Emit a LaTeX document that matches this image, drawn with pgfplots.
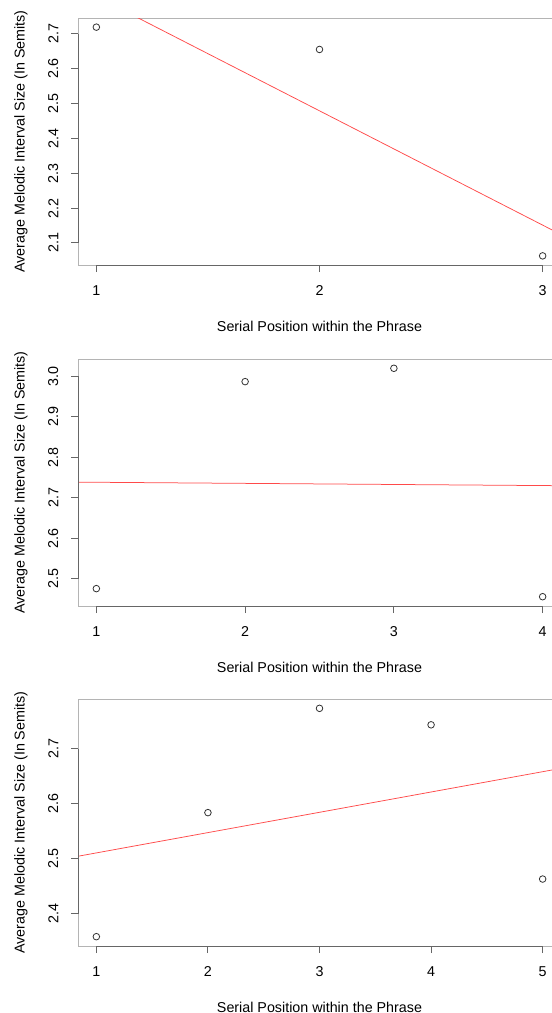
\documentclass[border=0pt]{standalone}
\usepackage{fontspec}
\setmainfont{Liberation Sans}
\usepackage{pgfplots}
\pgfplotsset{compat=1.18}
\definecolor{boxgray}{HTML}{B4B4B4}
\definecolor{axgray}{HTML}{666666}
\definecolor{fitred}{HTML}{FF4A4A}
\pgfplotsset{
  rplot/.style={
    scale only axis, width=482bp, height=247bp, anchor=south west,
    axis line style={boxgray, line width=1bp},
    tick align=outside, major tick length=7bp,
    every tick/.style={axgray, line width=1bp},
    xtick pos=bottom, ytick pos=left,
    /pgf/number format/assume math mode=true,
    yticklabel style={rotate=90, anchor=south, inner ysep=0pt, /pgf/number format/.cd, fixed, fixed zerofill, precision=1},
    yticklabel shift=13bp,
    xticklabel style={yshift=-9bp},
    clip mode=individual,
  },
  pts/.style={only marks, mark=o, mark size=3.3bp, mark options={line width=0.8bp, black!80}},
  fit/.style={fitred, line width=0.75bp, no marks},
}
\begin{document}
\fontsize{14.3bp}{17bp}\selectfont
\begin{tikzpicture}
% ---------- Panel 1 ----------
\begin{axis}[rplot, at={(78.5bp,-265bp)},
  xmin=0.92, xmax=3.08, ymin=2.0368, ymax=2.7452,
  xtick={1,2,3}, ytick={2.1,2.2,2.3,2.4,2.5,2.6,2.7}]
\addplot[pts] coordinates {(1,2.719) (2,2.655) (3,2.063)};
\addplot[fit] coordinates {(0.92,2.833) (3.08,2.125)};
\draw[axgray, line width=1bp] (axis cs:1,2.0368) -- (axis cs:3,2.0368);
\draw[axgray, line width=1bp] (axis cs:0.92,2.1) -- (axis cs:0.92,2.7);
\end{axis}
% ---------- Panel 2 ----------
\begin{axis}[rplot, at={(78.5bp,-606bp)},
  xmin=0.88, xmax=4.12, ymin=2.432, ymax=3.043,
  xtick={1,2,3,4}, ytick={2.5,2.6,2.7,2.8,2.9,3.0}]
\addplot[pts] coordinates {(1,2.475) (2,2.987) (3,3.020) (4,2.455)};
\addplot[fit] coordinates {(0.88,2.7384) (4.12,2.7296)};
\draw[axgray, line width=1bp] (axis cs:1,2.432) -- (axis cs:4,2.432);
\draw[axgray, line width=1bp] (axis cs:0.88,2.5) -- (axis cs:0.88,3.0);
\end{axis}
% ---------- Panel 3 ----------
\begin{axis}[rplot, at={(78.5bp,-946bp)},
  xmin=0.84, xmax=5.16, ymin=2.341, ymax=2.791,
  xtick={1,2,3,4,5}, ytick={2.4,2.5,2.6,2.7}]
\addplot[pts] coordinates {(1,2.358) (2,2.584) (3,2.774) (4,2.744) (5,2.463)};
\addplot[fit] coordinates {(0.84,2.5047) (5.16,2.6645)};
\draw[axgray, line width=1bp] (axis cs:1,2.341) -- (axis cs:5,2.341);
\draw[axgray, line width=1bp] (axis cs:0.84,2.4) -- (axis cs:0.84,2.7);
\end{axis}
% ---------- Axis titles ----------
\foreach \yb in {265,606,946}{
  \node[anchor=base, inner sep=0pt] at (319.5bp,-\yb bp-66.5bp) {Serial Position within the Phrase};
  \node[anchor=base, rotate=90, inner sep=0pt] at (24.5bp,-\yb bp+123.5bp) {Average Melodic Interval Size (In Semits)};
}
\pgfresetboundingbox
\path (0,0) rectangle (552bp,-1013bp);
\end{tikzpicture}
\end{document}
